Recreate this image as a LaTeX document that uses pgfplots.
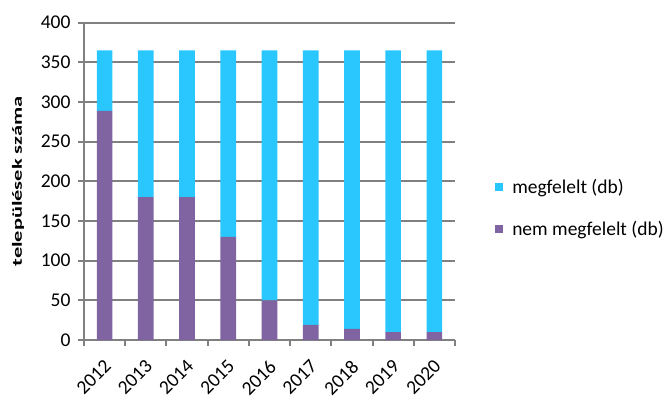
\documentclass[border=0pt]{standalone}
\usepackage{pgfplots}
\pgfplotsset{compat=1.18}
\usepackage{fontspec}
\setmainfont{Carlito}

\definecolor{megf}{RGB}{41,199,254}
\definecolor{nemmegf}{RGB}{128,100,162}
\definecolor{gridgray}{RGB}{128,128,128}

% nem megfelelt / megfelelt settlements per year (total 365)
\pgfplotstableread{
x year nem megf
0 2012 289 76
1 2013 180 185
2 2014 180 185
3 2015 130 235
4 2016 50 315
5 2017 19 346
6 2018 14 351
7 2019 10 355
8 2020 10 355
}\datatable

\begin{document}
\begin{tikzpicture}
\begin{axis}[
  scale only axis,
  width=371bp, height=317.3bp,
  ybar stacked,
  bar width=0.38,
  xmin=-0.5, xmax=8.5,
  ymin=0, ymax=400,
  ytick={0,50,...,400},
  xtick={-0.5,0.5,...,8.5},
  xticklabels={},
  extra x ticks={0,1,...,8},
  extra x tick labels={2012,2013,2014,2015,2016,2017,2018,2019,2020},
  extra x tick style={
    major tick length=0pt,
    xticklabel style={xshift=-1.5bp, yshift=-14bp, rotate=45, anchor=north east},
  },
  axis x line*=bottom,
  axis y line*=left,
  axis line style={gridgray, line width=2bp, -},
  tick style={gridgray, line width=2bp},
  major tick length=6bp,
  tick align=outside,
  ymajorgrids,
  major grid style={gridgray, line width=2bp},
  /pgf/number format/assume math mode=true,
  ticklabel style={font=\fontsize{19.5bp}{22bp}\selectfont, text=black},
  yticklabel style={xshift=-4bp},
  ylabel={\scalebox{1.6}[1]{\bfseries\fontsize{14bp}{16bp}\selectfont települések száma}},
  ylabel style={at={(axis description cs:-0.178,0.5)}, anchor=center},
  legend style={draw=none, fill=none, at={(axis description cs:1.108,0.513)},
    anchor=north west, font=\fontsize{19.5bp}{22bp}\selectfont,
    row sep=22bp, column sep=7bp, inner sep=0pt},
  legend cell align=left,
  reverse legend,
  area legend,
  legend image code/.code={\fill[#1,draw=none] (0bp,-4bp) rectangle (8bp,4bp);},
]
\addplot[fill=nemmegf, draw=none] table[x=x, y=nem] {\datatable};
\addlegendentry{nem megfelelt (db)}
\addplot[fill=megf, draw=none] table[x=x, y=megf] {\datatable};
\addlegendentry{megfelelt (db)}
\end{axis}
\pgfresetboundingbox
\path[use as bounding box] (-84bp,-59bp) rectangle (588bp,340bp);
\end{tikzpicture}
\end{document}
